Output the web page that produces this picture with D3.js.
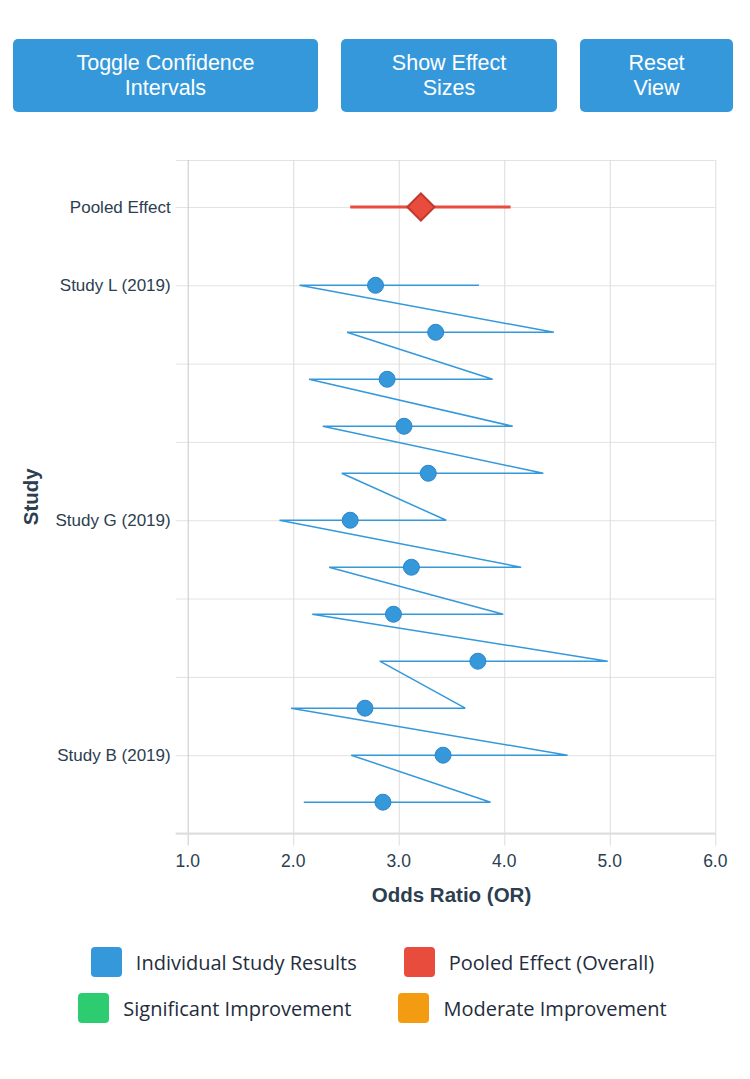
<!DOCTYPE html>
<html>
<head>
<meta charset="utf-8">
<script src="https://cdn.jsdelivr.net/npm/d3@7"></script>
<style>
  body { margin: 0; background: #fff; width: 750px; height: 1079px; position: relative; overflow: hidden; }
  #controls { position: absolute; top: 39px; left: 13px; display: flex; gap: 23px; }
  .btn { background: #3498db; color: #fff; border-radius: 5px; font: 21.5px "Liberation Sans", Arial, sans-serif;
         line-height: 25px; text-align: center; height: 73px; box-sizing: border-box; padding-top: 12px; }
  #chart { position: absolute; top: 0; left: 0; }
  #legend { position: absolute; top: 947px; left: 0; width: 745px; display: flex; flex-wrap: wrap;
            justify-content: center; column-gap: 47px; row-gap: 16px; }
  .item { display: flex; align-items: center; height: 30px; font: 20px "Open Sans", "Noto Sans", sans-serif; color: #1f2d3d; }
  .sw { width: 31px; height: 30px; border-radius: 4px; margin-right: 14px; }
</style>
</head>
<body>
<div id="controls"></div>
<svg id="chart" width="750" height="930"></svg>
<div id="legend"></div>
<script>
var buttonLabels = [["Toggle Confidence", "Intervals"], ["Show Effect", "Sizes"], ["Reset", "View"]];
var buttonWidths = [305, 216, 153];

var studyNames = ["Study L (2019)", "Study K (2019)", "Study J (2019)", "Study I (2019)", "Study H (2019)", "Study G (2019)",
                  "Study F (2019)", "Study E (2019)", "Study D (2019)", "Study C (2019)", "Study B (2019)", "Study A (2019)"];
var studyOR    = [2.78, 3.35, 2.89, 3.05, 3.28, 2.54, 3.12, 2.95, 3.75, 2.68, 3.42, 2.85];
var studyLower = [2.06, 2.51, 2.15, 2.28, 2.46, 1.87, 2.34, 2.18, 2.82, 1.98, 2.55, 2.10];
var studyUpper = [3.76, 4.47, 3.89, 4.08, 4.37, 3.45, 4.16, 3.99, 4.98, 3.63, 4.60, 3.87];

var pooledLabel = "Pooled Effect";
var pooledOR = 3.21, pooledLower = 2.54, pooledUpper = 4.06;
var pooledRow = -5/3;

var xTicks = [1, 2, 3, 4, 5, 6];
var rowStep = 5/3;

var legendLabels = ["Individual Study Results", "Pooled Effect (Overall)", "Significant Improvement", "Moderate Improvement"];
var legendColors = ["#3498db", "#e74c3c", "#2ecc71", "#f39c12"];

// buttons
d3.select("#controls").selectAll("div").data(buttonLabels).join("div")
  .attr("class", "btn")
  .style("width", function(d, i){ return buttonWidths[i] + "px"; })
  .html(function(d){ return d.join("<br>"); });

// chart
var svg = d3.select("#chart");
var pLeft = 187.7, pRight = 715.3, pTop = 160, pBottom = 833.5;

var x = d3.scaleLinear().domain([1, 6]).range([pLeft, pRight]);
var y = d3.scaleLinear().domain([pooledRow - 1, studyNames.length - 1 + 2/3]).range([pTop, pBottom]);

var yTicks = d3.range(9).map(function(i){ return pooledRow + i * rowStep; });
function yLabel(t){
  if (Math.abs(t - pooledRow) < 1e-9) return pooledLabel;
  var r = Math.round(t);
  if (Math.abs(t - r) < 1e-9 && studyNames[r]) return studyNames[r];
  return "";
}

var font = '"Liberation Sans", Arial, sans-serif';

// horizontal grid
svg.append("g").attr("transform", "translate(" + pLeft + ",0)")
  .call(d3.axisLeft(y).tickValues(yTicks.concat([y.domain()[0]])).tickSize(-(pRight - pLeft)).tickFormat(""))
  .call(function(g){ g.select(".domain").remove(); })
  .selectAll("line").attr("stroke", "#e3e3e3").attr("x1", -12);

// vertical grid
svg.append("g").attr("transform", "translate(0," + pBottom + ")")
  .call(d3.axisBottom(x).tickValues(xTicks).tickSize(-(pBottom - pTop)).tickFormat(""))
  .call(function(g){ g.select(".domain").remove(); })
  .selectAll("line").attr("stroke", function(d){ return d === 1 ? "#c8c8c8" : "#dcdcdc"; }).attr("y1", 12);

// bottom axis line
svg.append("line").attr("x1", pLeft - 12).attr("x2", pRight).attr("y1", pBottom).attr("y2", pBottom)
  .attr("stroke", "#dddddd").attr("stroke-width", 2);

// y tick labels
svg.append("g").selectAll("text").data(yTicks).join("text")
  .attr("x", pLeft - 17).attr("y", function(d){ return y(d); }).attr("dy", "0.35em")
  .attr("text-anchor", "end").attr("font-family", font).attr("font-size", 17).attr("fill", "#2c3e50")
  .text(yLabel);

// x tick labels
svg.append("g").selectAll("text").data(xTicks).join("text")
  .attr("x", function(d){ return x(d); }).attr("y", pBottom + 27).attr("dy", "0.35em")
  .attr("text-anchor", "middle").attr("font-family", font).attr("font-size", 17.5).attr("fill", "#2c3e50")
  .text(function(d){ return d3.format(".1f")(d); });

// axis titles
svg.append("text").attr("x", (pLeft + pRight) / 2).attr("y", 895).attr("dy", "0.35em")
  .attr("text-anchor", "middle").attr("font-family", font).attr("font-weight", "bold").attr("font-size", 20.5)
  .attr("fill", "#2c3e50").text("Odds Ratio (OR)");
svg.append("text").attr("transform", "translate(31," + ((pTop + pBottom) / 2) + ") rotate(-90)").attr("dy", "0.35em")
  .attr("text-anchor", "middle").attr("font-family", font).attr("font-weight", "bold").attr("font-size", 20.5)
  .attr("fill", "#2c3e50").text("Study");

// study CI path (upper -> lower for each study, in order)
var pathPts = [];
studyNames.forEach(function(n, i){
  pathPts.push([studyUpper[i], i]);
  pathPts.push([studyLower[i], i]);
});
var line = d3.line().x(function(d){ return x(d[0]); }).y(function(d){ return y(d[1]); });
svg.append("path").attr("d", line(pathPts)).attr("fill", "none")
  .attr("stroke", "#3498db").attr("stroke-width", 1.5);

svg.append("g").selectAll("circle").data(studyOR).join("circle")
  .attr("cx", function(d){ return x(d); }).attr("cy", function(d, i){ return y(i); }).attr("r", 8)
  .attr("fill", "#3498db").attr("stroke", "#2e86c8").attr("stroke-width", 1);

// pooled
svg.append("line").attr("x1", x(pooledLower)).attr("x2", x(pooledUpper))
  .attr("y1", y(pooledRow)).attr("y2", y(pooledRow)).attr("stroke", "#e74c3c").attr("stroke-width", 3);
svg.append("path").attr("d", d3.symbol().type(d3.symbolSquare).size(370)())
  .attr("transform", "translate(" + x(pooledOR) + "," + y(pooledRow) + ") rotate(45)")
  .attr("fill", "#e74c3c").attr("stroke", "#c0392b").attr("stroke-width", 2);

// legend
var items = d3.select("#legend").selectAll("div").data(legendLabels).join("div").attr("class", "item");
items.append("div").attr("class", "sw").style("background", function(d, i){ return legendColors[i]; });
items.append("span").text(function(d){ return d; });
</script>
</body>
</html>
